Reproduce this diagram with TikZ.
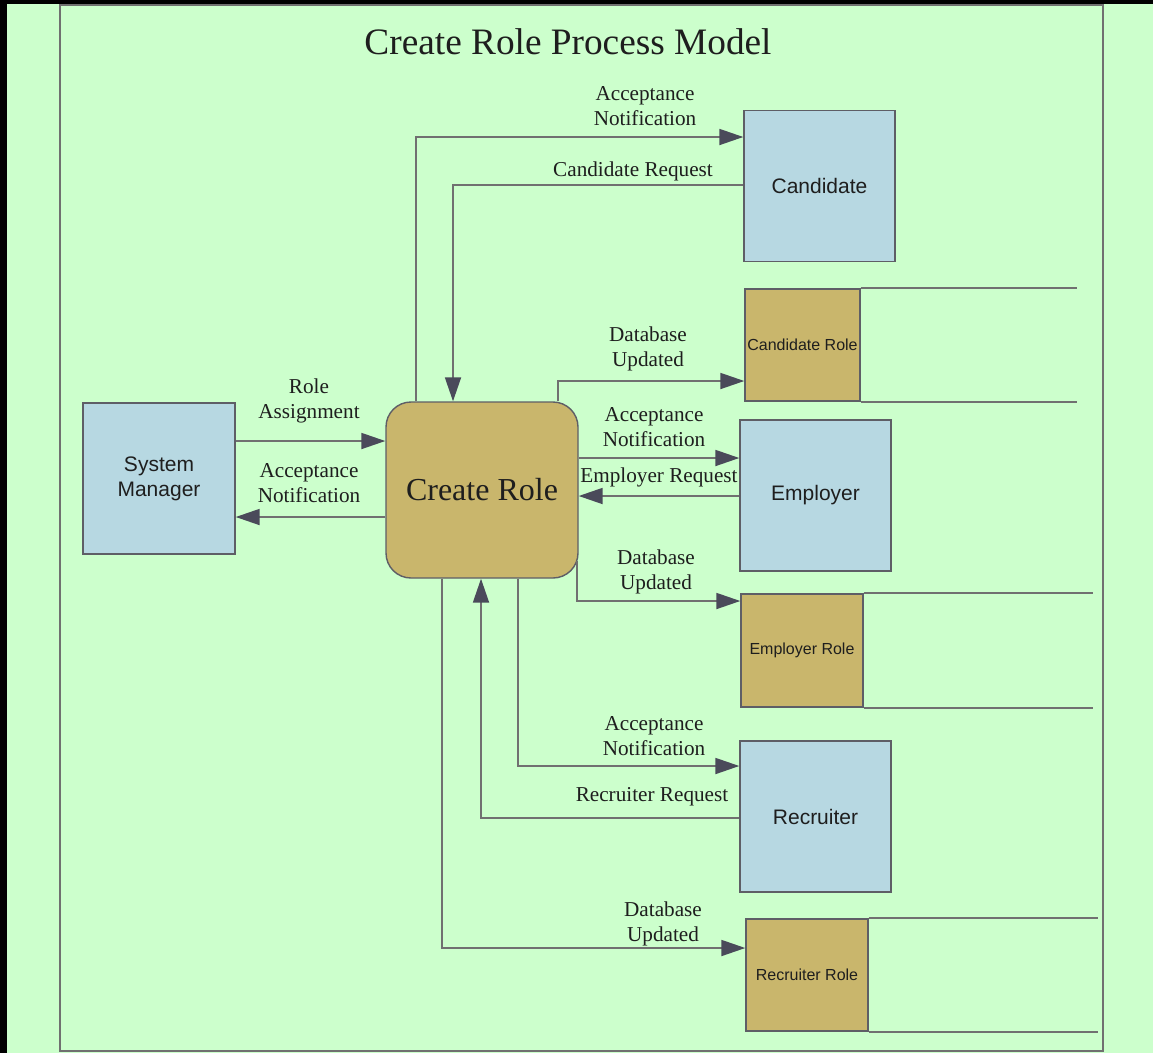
\documentclass[tikz,border=0pt]{standalone}
\usepackage{fontspec}
\setmainfont{Liberation Serif}
\newfontfamily\arialf{Liberation Sans}
\usetikzlibrary{arrows.meta}
\definecolor{bggreen}{HTML}{CCFFCC}
\definecolor{boxblue}{HTML}{B7D8E2}
\definecolor{boxtan}{HTML}{C9B66C}
\definecolor{edgegray}{HTML}{5E5E66}
\definecolor{linegray}{HTML}{707070}
\definecolor{tipgray}{HTML}{4A4A5A}
\definecolor{txt}{HTML}{1E1E1E}
\tikzset{
  ent/.style={draw=edgegray, line width=1.4pt, fill=boxblue, minimum width=151pt, minimum height=151pt, inner sep=0pt, font=\arialf\fontsize{21}{25}\selectfont, text=txt, align=center},
  store/.style={draw=edgegray, line width=1.4pt, fill=boxtan, inner sep=0pt, font=\arialf\fontsize{16}{18}\selectfont, text=txt},
  proc/.style={draw=edgegray, line width=1.4pt, fill=boxtan, rounded corners=25pt, minimum width=192pt, minimum height=176pt, inner sep=0pt, font=\fontsize{32}{36}\selectfont, text=txt},
  flow/.style={draw=linegray, line width=1.8pt, -{Triangle[length=24pt,width=16pt,color=tipgray,fill=tipgray]}},
  sline/.style={draw=linegray, line width=1.8pt},
  lbl/.style={font=\fontsize{21.2}{25}\selectfont, text=txt, align=center, inner sep=0pt}
}
\begin{document}
\begin{tikzpicture}[x=1pt, y=-1pt]
\useasboundingbox (0,0) rectangle (1153,1053);
\fill[bggreen] (0,0) rectangle (1153,1053);
\fill[black] (0,0) rectangle (1153,4);
\fill[black] (0,0) rectangle (7,1053);
\draw[draw=linegray, line width=1.4pt] (60,5) rectangle (1103,1051);

\node[font=\fontsize{37.3}{40}\selectfont, text=txt] (title) at (568,42) {Create Role Process Model};

\node[ent] (cand) at (819.5,186) {Candidate};
\node[store, minimum width=115pt, minimum height=112pt] (candrole) at (802.5,345) {Candidate Role};
\node[ent] (emp) at (815.5,495.5) {Employer};
\node[store, minimum width=122pt, minimum height=113pt] (emprole) at (802,650.5) {Employer Role};
\node[ent] (rec) at (815.5,816.5) {Recruiter};
\node[store, minimum width=122pt, minimum height=112pt] (recrole) at (807,975) {Recruiter Role};
\node[ent, minimum width=152pt] (sm) at (159,478.5) {System\\Manager};
\node[proc] (cr) at (482,490) {Create Role};

% data store open lines
\draw[sline] (candrole.north east) -- (candrole.north east -| 1077,0);
\draw[sline] (candrole.south east) -- (candrole.south east -| 1077,0);
\draw[sline] (emprole.north east) -- (emprole.north east -| 1093,0);
\draw[sline] (emprole.south east) -- (emprole.south east -| 1093,0);
\draw[sline] (recrole.north east) -- (recrole.north east -| 1098,0);
\draw[sline] (recrole.south east) -- (recrole.south east -| 1098,0);

% flows
\draw[flow] (cr.north -| 416,0) |- (cand.west |- 0,137);
\draw[flow] (cand.west |- 0,185) -| (cr.north -| 453,0);
\draw[flow] (cr.north -| 558,0) |- (candrole.west |- 0,381);
\draw[flow] (cr.east |- 0,458) -- (emp.west |- 0,458);
\draw[flow] (emp.west |- 0,496) -- (cr.east |- 0,496);
\draw[flow] (cr.south east) ++(-2,-18) |- (emprole.west |- 0,601);
\draw[flow] (cr.south -| 518,0) |- (rec.west |- 0,766);
\draw[flow] (rec.west |- 0,818) -| (cr.south -| 481,0);
\draw[flow] (cr.south -| 442,0) |- (recrole.west |- 0,948);
\draw[flow] (sm.east |- 0,441) -- (cr.west |- 0,441);
\draw[flow] (cr.west |- 0,517) -- (sm.east |- 0,517);

% labels
\node[lbl] (l1) at (645,106) {Acceptance\\Notification};
\node[lbl] (l2) at (633,171) {Candidate Request};
\node[lbl] (l3) at (648,349) {Database\\Updated};
\node[lbl] (l4) at (309,401) {Role\\Assignment};
\node[lbl] (l5) at (309,483) {Acceptance\\Notification};
\node[lbl] (l6) at (654,427) {Acceptance\\Notification};
\node[lbl] (l7) at (659,477) {Employer Request};
\node[lbl] (l8) at (656,572) {Database\\Updated};
\node[lbl] (l9) at (654,736) {Acceptance\\Notification};
\node[lbl] (l10) at (652,797) {Recruiter Request};
\node[lbl] (l11) at (663,924) {Database\\Updated};
\end{tikzpicture}
\end{document}
